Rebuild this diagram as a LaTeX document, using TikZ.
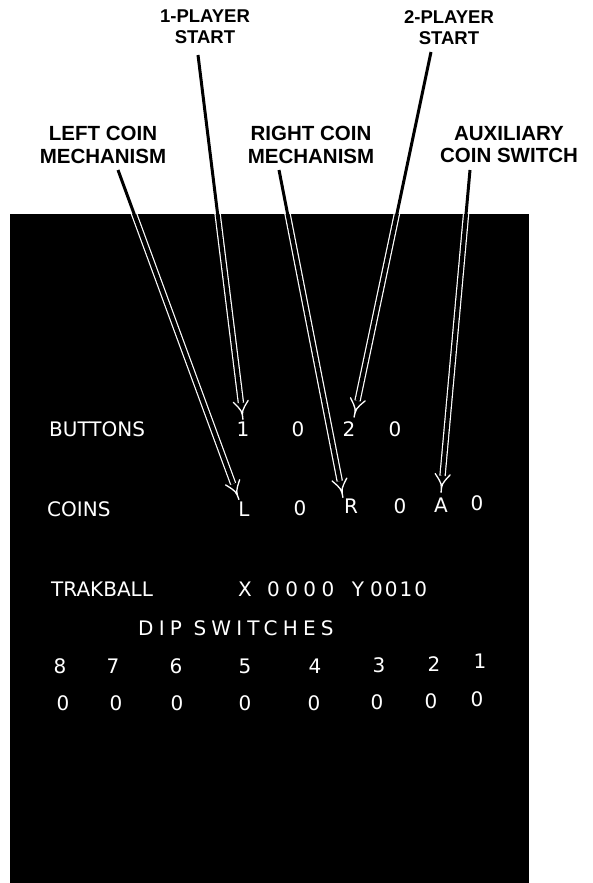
\documentclass[tikz,border=0pt]{standalone}
\usepackage{fontspec}
\newfontfamily\lblfont{Liberation Sans}
\newfontfamily\scrfont{DejaVu Sans}
\usetikzlibrary{calc}
\tikzset{
  lbl/.style={font=\lblfont\bfseries\fontsize{20.5}{22.5}\selectfont, align=center, inner sep=0pt, anchor=north, text=black},
  toplbl/.style={lbl, font=\lblfont\bfseries\fontsize{18.5}{21}\selectfont},
  scr/.style={text=white, font=\scrfont\fontsize{20}{20}\selectfont, inner sep=0pt},
  ch/.style={scr, anchor=base},
  word/.style={scr, anchor=base west},
  spaced/.style={word, font=\scrfont\fontsize{20}{20}\selectfont\addfontfeature{LetterSpace=#1}},
  outleader/.style={draw=black, line width=3pt, shorten >=17pt},
  inleader/.style={draw=white, line width=1.2pt, double=black, double distance=4pt, shorten >=17pt},
  barb/.style={draw=white, line width=1.3pt, line cap=round},
}
\newcommand\leader[2]{% #1 start, #2 tip
  \draw[outleader] (#1) -- (#2);
  \begin{scope}
    \clip (10,214) rectangle (529,883);
    \draw[inleader] (#1) -- (#2);
  \end{scope}
  \draw[barb] ($(#2)!20pt!22:(#1)$) .. controls ($(#2)!9pt!(#1)$) .. (#2)
              .. controls ($(#2)!9pt!(#1)$) .. ($(#2)!20pt!-22:(#1)$);
}
\begin{document}
\begin{tikzpicture}[x=1pt, y=-1pt]
\useasboundingbox (0,0) rectangle (593,883);
% screen
\fill[black] (10,214) rectangle (529,883);

% labels
\node[toplbl] (p1) at (205,10) {1-PLAYER\\START};
\node[toplbl] (p2) at (449,10) {2-PLAYER\\START};
\node[lbl] (lc) at (103,126) {LEFT COIN\\MECHANISM};
\node[lbl] (rc) at (311,126) {RIGHT COIN\\MECHANISM};
\node[lbl] (ax) at (509,126) {AUXILIARY\\COIN SWITCH};

% screen text
\node[word] (buttons) at (49,436) {BUTTONS};
\node[ch] (b1) at (243,436) {1};
\node[ch] (b0a) at (298,436) {0};
\node[ch] (b2) at (349,436) {2};
\node[ch] (b0b) at (395,436) {0};

\node[word] (coins) at (47,516) {COINS};
\node[ch] (cL) at (244,516) {L};
\node[ch] (c0a) at (300,515) {0};
\node[ch] (cR) at (351,513) {R};
\node[ch] (c0b) at (400,513) {0};
\node[ch] (cA) at (441,512) {A};
\node[ch] (c0c) at (477,510) {0};

\node[word] (trak) at (51,596) {TRAKBALL};
\node[ch] (tx) at (245,596) {X};
\node[spaced=27] (txv) at (267,596) {0000};
\node[ch] (ty) at (358,596) {Y};
\node[spaced=10] (tyv) at (370,596) {0010};

\node[spaced=26] (dip) at (138,635) {DIP SWITCHES};

\node[ch] (d8) at (60,673) {8};
\node[ch] (d7) at (113,673) {7};
\node[ch] (d6) at (176,673) {6};
\node[ch] (d5) at (245,673) {5};
\node[ch] (d4) at (315,673) {4};
\node[ch] (d3) at (379,672) {3};
\node[ch] (d2) at (434,671) {2};
\node[ch] (d1) at (480,668) {1};

\node[ch] (z8) at (63,710) {0};
\node[ch] (z7) at (116,710) {0};
\node[ch] (z6) at (177,710) {0};
\node[ch] (z5) at (245,710) {0};
\node[ch] (z4) at (314,710) {0};
\node[ch] (z3) at (377,709) {0};
\node[ch] (z2) at (431,708) {0};
\node[ch] (z1) at (477,706) {0};

% leader start points
\coordinate (sLC) at (118,170);
\coordinate (s1P) at (198,55);
\coordinate (sRC) at (279,170);
\coordinate (s2P) at (431,52);
\coordinate (sAX) at (470,170);
% tips
\coordinate (tL) at ([xshift=-5pt,yshift=1.5pt]cL.north);
\coordinate (t1) at ([yshift=1.5pt]b1.north);
\coordinate (tR) at ([xshift=-8pt,yshift=0.5pt]cR.north);
\coordinate (t2) at ([xshift=5pt,yshift=3.5pt]b2.north);
\coordinate (tA) at ([yshift=4.5pt]cA.north);

\leader{sLC}{tL}
\leader{s1P}{t1}
\leader{sRC}{tR}
\leader{s2P}{t2}
\leader{sAX}{tA}
\end{tikzpicture}
\end{document}
